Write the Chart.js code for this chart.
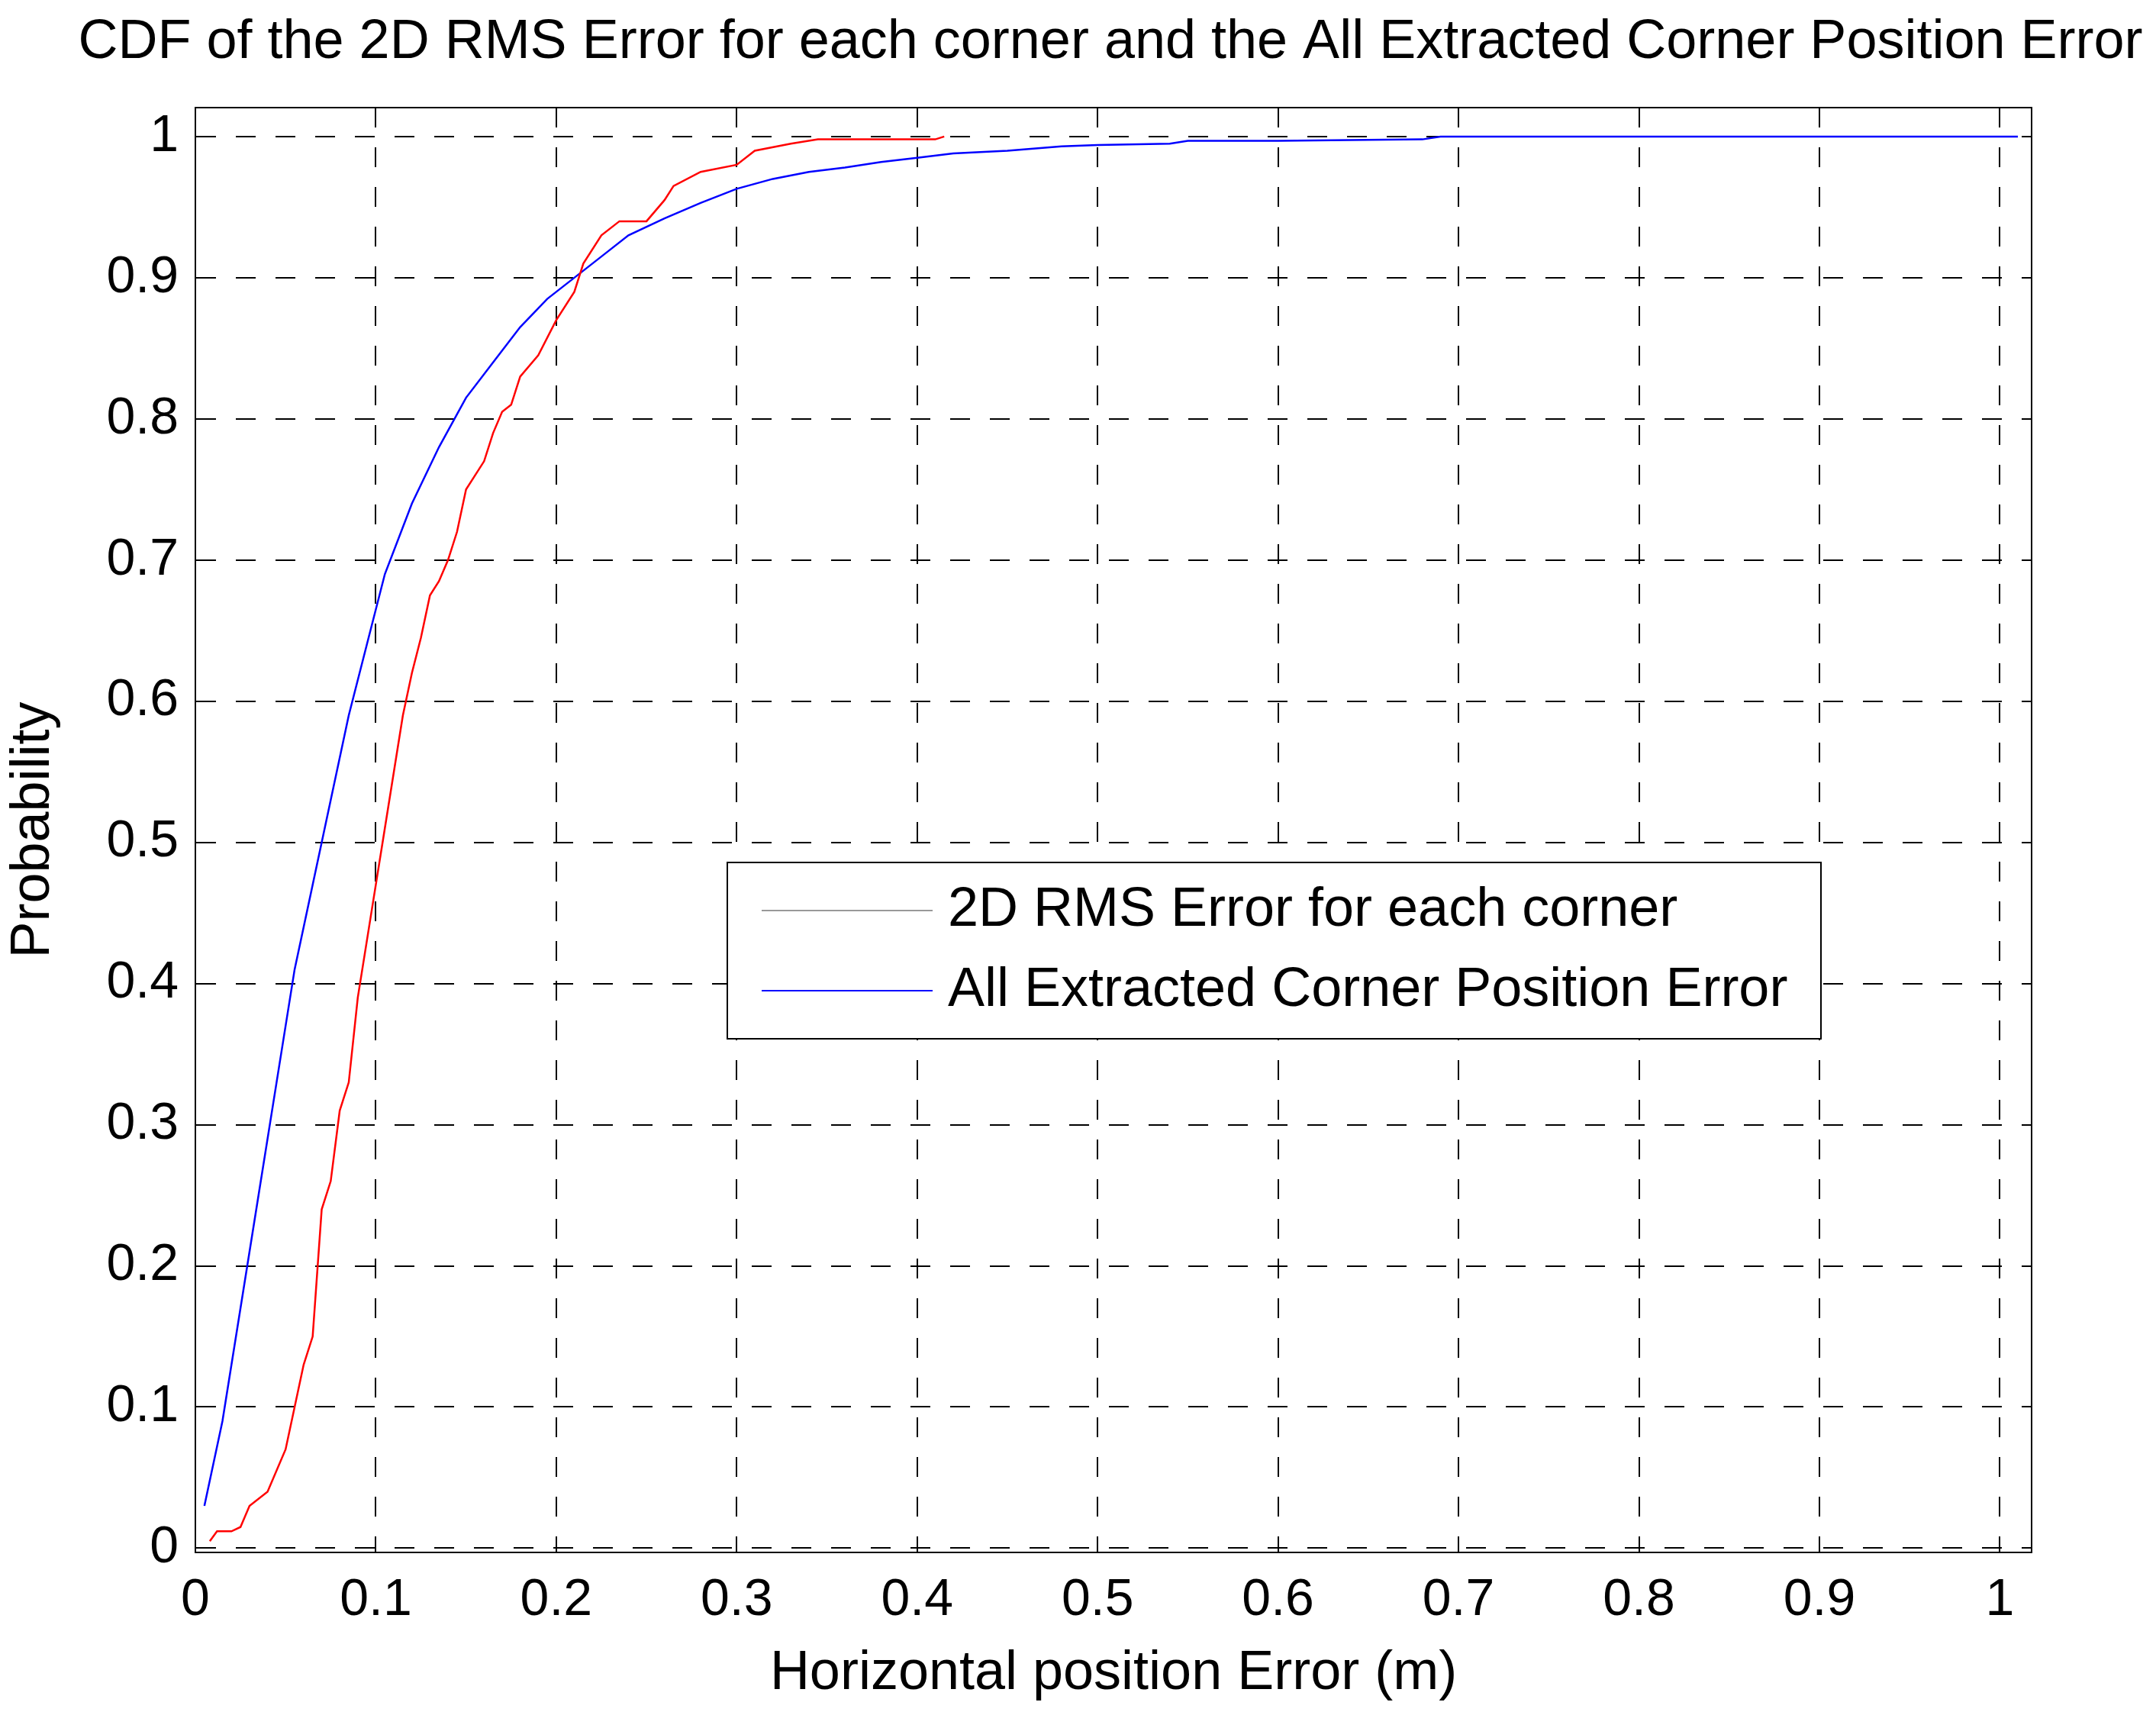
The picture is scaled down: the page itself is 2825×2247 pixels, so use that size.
<!DOCTYPE html>
<html><head><meta charset="utf-8">
<script src="https://cdn.jsdelivr.net/npm/chart.js@4.4.0/dist/chart.umd.min.js"></script>
<style>html,body{margin:0;padding:0;background:#fff}#w{width:2825px;height:2247px}</style>
</head><body><div id="w"><canvas id="c"></canvas></div>
<script>
const chartTitle = "CDF of the 2D RMS Error for each corner and the All Extracted Corner Position Error";
const xTitle = "Horizontal position Error (m)";
const yTitle = "Probability";
const seriesNames = ["2D RMS Error for each corner", "All Extracted Corner Position Error"];
const xTicks = [0,0.1,0.2,0.3,0.4,0.5,0.6,0.7,0.8,0.9,1];
const yTicks = [0,0.1,0.2,0.3,0.4,0.5,0.6,0.7,0.8,0.9,1];
const rmsX = [0.008,0.012,0.02,0.025,0.03,0.04,0.05,0.055,0.06,0.065,0.07,0.075,0.08,0.085,0.09,0.1,0.105,0.11,0.115,0.12,0.125,0.13,0.135,0.14,0.145,0.15,0.16,0.165,0.17,0.175,0.18,0.19,0.2,0.21,0.215,0.225,0.235,0.25,0.26,0.265,0.28,0.3,0.31,0.33,0.345,0.41,0.415];
const rmsY = [0.005,0.012,0.012,0.015,0.03,0.04,0.07,0.1,0.13,0.15,0.24,0.26,0.31,0.33,0.39,0.47,0.51,0.55,0.59,0.62,0.645,0.675,0.685,0.7,0.72,0.75,0.77,0.79,0.805,0.81,0.83,0.845,0.87,0.89,0.91,0.93,0.94,0.94,0.955,0.965,0.975,0.98,0.99,0.995,0.998,0.998,1.0];
const allX = [0.005,0.015,0.025,0.035,0.045,0.055,0.065,0.075,0.085,0.095,0.105,0.12,0.135,0.15,0.165,0.18,0.195,0.21,0.225,0.24,0.26,0.28,0.3,0.32,0.34,0.36,0.38,0.4,0.42,0.45,0.48,0.5,0.54,0.55,0.6,0.68,0.69,1.01];
const allY = [0.03,0.09,0.17,0.25,0.33,0.41,0.47,0.53,0.59,0.64,0.69,0.74,0.78,0.815,0.84,0.865,0.885,0.9,0.915,0.93,0.942,0.953,0.963,0.97,0.975,0.978,0.982,0.985,0.988,0.99,0.993,0.994,0.995,0.997,0.997,0.998,1.0,1.0];
const colors = ["#ff0000","#0000ff"];
const FONT = "'Liberation Sans', Arial, sans-serif";

const pts = (xs, ys) => xs.map((x,i)=>({x:x,y:ys[i]}));
const filt = vals => function(scale){ scale.ticks = vals.map(v=>({value:v})); };

const deco = {
  id:'deco',
  afterDraw(ch){
    const c = ch.ctx, a = ch.chartArea;
    c.save();
    c.fillStyle = '#000';
    c.font = "72px " + FONT;
    c.textAlign = 'center'; c.textBaseline = 'middle';
    c.fillText(chartTitle, 1455, 56);
    c.fillText(xTitle, (a.left+a.right)/2, 2193);
    c.translate(44, (a.top+a.bottom)/2); c.rotate(-Math.PI/2);
    c.fillText(yTitle, 0, 0);
    c.restore();
    c.save();
    const bx=953, by=1130, bw=1433, bh=231;
    c.fillStyle='#fff'; c.fillRect(bx,by,bw,bh);
    c.strokeStyle='#000'; c.lineWidth=2; c.strokeRect(bx,by,bw,bh);
    c.font = "72px " + FONT; c.textAlign='left'; c.textBaseline='middle';
    seriesNames.forEach((n,i)=>{
      const yy = by + 63 + i*105;
      c.strokeStyle = i===0 ? '#999' : colors[1]; c.lineWidth=2;
      c.beginPath(); c.moveTo(998,yy); c.lineTo(1222,yy); c.stroke();
      c.fillStyle='#000'; c.fillText(n, 1242, yy);
    });
    c.restore();
  }
};

new Chart(document.getElementById('c'), {
  type:'line',
  data:{datasets:[
    {label:seriesNames[0], data:pts(rmsX,rmsY), borderColor:colors[0], borderWidth:2.5, pointRadius:0, fill:false, tension:0},
    {label:seriesNames[1], data:pts(allX,allY), borderColor:colors[1], borderWidth:2.5, pointRadius:0, fill:false, tension:0}
  ]},
  options:{
    responsive:true, maintainAspectRatio:false, animation:false,
    layout:{padding:{top:141, right:163, left:0, bottom:0}},
    plugins:{legend:{display:false}, title:{display:false}, tooltip:{enabled:false}},
    scales:{
      x:{type:'linear', min:0, max:1.0176,
        afterBuildTicks: filt(xTicks),
        afterFit(s){ s.height = 213; },
        grid:{color:'#000', lineWidth:2, drawTicks:false, tickLength:0},
        border:{display:true, color:'#000', width:2, dash:[26,26]},
        ticks:{font:{family:FONT,size:68}, color:'#000', padding:22, maxRotation:0, autoSkip:false, callback:v=>String(+v.toFixed(1))}
      },
      y:{type:'linear', min:-0.003, max:1.0205,
        afterBuildTicks: filt(yTicks),
        afterFit(s){ s.width = 256; },
        grid:{color:'#000', lineWidth:2, drawTicks:false, tickLength:0},
        border:{display:true, color:'#000', width:2, dash:[26,26]},
        ticks:{font:{family:FONT,size:68}, color:'#000', padding:22, autoSkip:false, callback:v=>String(+v.toFixed(1))}
      }
    }
  },
  plugins:[deco, {
    id:'frame',
    beforeDatasetsDraw(ch){
      const c=ch.ctx, a=ch.chartArea;
      c.save(); c.strokeStyle='#000'; c.lineWidth=2; c.setLineDash([]);
      c.strokeRect(a.left,a.top,a.right-a.left,a.bottom-a.top);
      c.restore();
    }
  }]
});
</script></body></html>
